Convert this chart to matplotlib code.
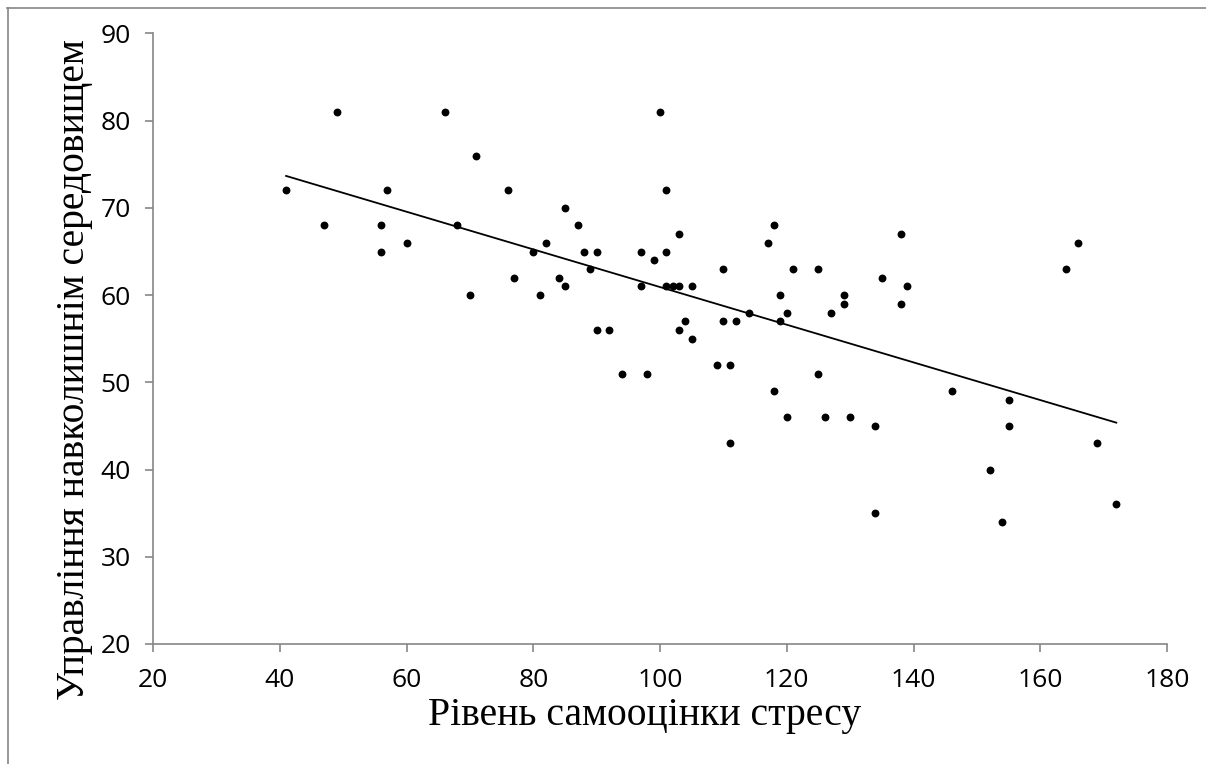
import numpy as np
import matplotlib
matplotlib.use('Agg')
from matplotlib import pyplot as plt
from matplotlib.lines import Line2D

# рівень самооцінки стресу
stress = [41, 47, 49, 56, 56, 57, 60, 66, 68, 70, 71, 76, 77, 80, 81, 82, 84, 85, 85, 87,
          88, 89, 90, 90, 92, 94, 97, 97, 98, 99, 100, 101, 101, 101, 102, 103, 103, 103,
          104, 105, 105, 109, 110, 110, 111, 111, 112, 114, 117, 118, 118, 119, 119, 120,
          120, 121, 125, 125, 126, 127, 129, 129, 130, 134, 134, 135, 138, 138, 139, 146,
          152, 154, 155, 155, 164, 166, 169, 172]
# управління навколишнім середовищем
env = [72, 68, 81, 68, 65, 72, 66, 81, 68, 60, 76, 72, 62, 65, 60, 66, 62, 70, 61, 68,
       65, 63, 65, 56, 56, 51, 65, 61, 51, 64, 81, 72, 65, 61, 61, 67, 61, 56,
       57, 61, 55, 52, 63, 57, 52, 43, 57, 58, 66, 68, 49, 60, 57, 58,
       46, 63, 63, 51, 46, 58, 60, 59, 46, 45, 35, 62, 67, 59, 61, 49,
       40, 34, 48, 45, 63, 66, 43, 36]

x = np.array(stress, dtype=float)
y = np.array(env, dtype=float)
slope, intercept = np.polyfit(x, y, 1)
xl = np.array([x.min(), x.max()])

fig = plt.figure(figsize=(12.06, 7.64), dpi=100)
ax = fig.add_axes([153/1206, 1-644/764, (1167-153)/1206, (644-33.5)/764])

ax.plot(xl, slope*xl + intercept, color='black', lw=1.3)
ax.scatter(x, y, s=32, c='black', zorder=3, linewidths=0)

ax.set_xlim(20, 180)
ax.set_ylim(20, 90)
ax.set_xticks(range(20, 181, 20))
ax.set_yticks(range(20, 91, 10))
for s in ['top', 'right']:
    ax.spines[s].set_visible(False)
for s in ['left', 'bottom']:
    ax.spines[s].set_color('#868686')
    ax.spines[s].set_linewidth(1.2)
ax.tick_params(colors='#868686', length=6, width=1.2, direction='out',
               labelcolor='black', labelsize=19)
ax.tick_params(axis='x', pad=11)
ax.tick_params(axis='y', pad=10)
for lab in ax.get_xticklabels() + ax.get_yticklabels():
    lab.set_family('Open Sans')

fig.text(645/1206, 1-715/764, 'Рівень самооцінки стресу', family='Liberation Serif',
         fontsize=28.5, ha='center', va='center')
fig.text(75/1206, 1-370/764, 'Управління навколишнім середовищем', family='Liberation Serif',
         fontsize=28.5, ha='center', va='center', rotation=90)

# рамка області діаграми
fig.add_artist(Line2D([7/1206, 1], [1-7.5/764, 1-7.5/764], transform=fig.transFigure,
                      color='#868686', lw=1.2))
fig.add_artist(Line2D([7.5/1206, 7.5/1206], [0, 1-7.5/764], transform=fig.transFigure,
                      color='#868686', lw=1.2))

plt.savefig('out.png', dpi=100)
